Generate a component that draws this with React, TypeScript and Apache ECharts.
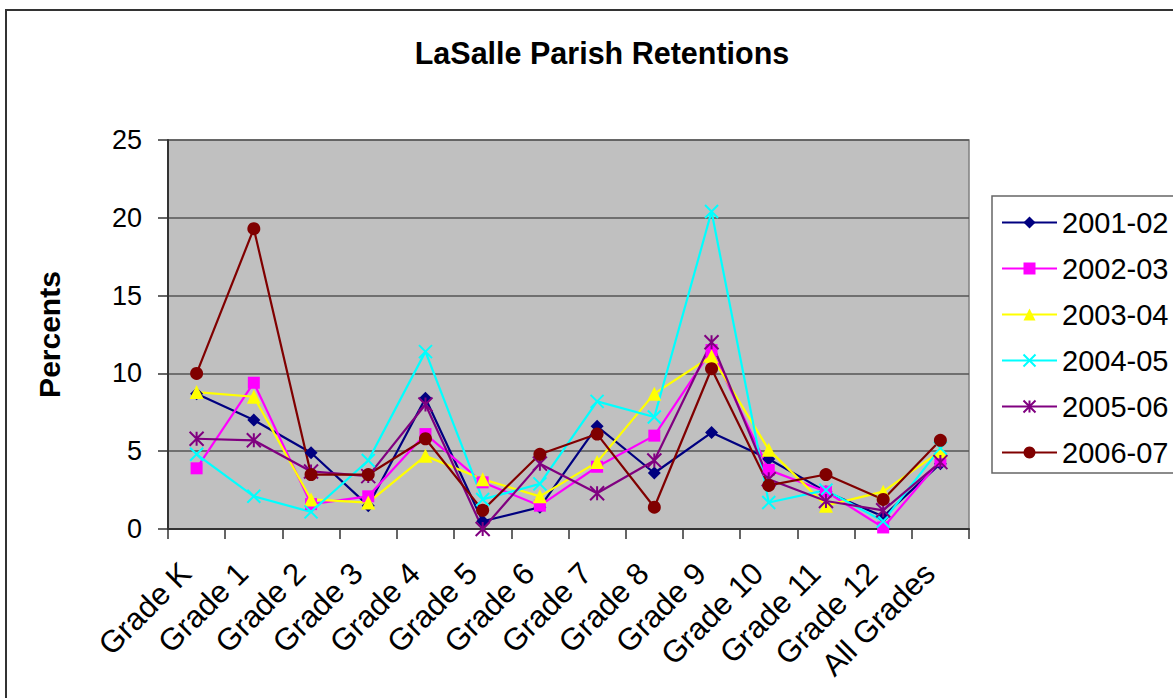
import React, { useEffect, useRef } from "react";
import * as echarts from "echarts";

const categories = ["Grade K", "Grade 1", "Grade 2", "Grade 3", "Grade 4", "Grade 5", "Grade 6", "Grade 7", "Grade 8", "Grade 9", "Grade 10", "Grade 11", "Grade 12", "All Grades"];
const seriesNames = ["2001-02", "2002-03", "2003-04", "2004-05", "2005-06", "2006-07"];
const s2001 = [8.7, 7.0, 4.9, 1.5, 8.4, 0.5, 1.4, 6.6, 3.6, 6.2, 4.5, 2.4, 0.8, 4.2];
const s2002 = [3.9, 9.4, 1.6, 2.1, 6.1, 3.0, 1.5, 4.0, 6.0, 11.5, 3.8, 2.4, 0.1, 4.4];
const s2003 = [8.8, 8.5, 1.9, 1.7, 4.7, 3.2, 2.1, 4.3, 8.7, 11.1, 5.1, 1.5, 2.4, 5.0];
const s2004 = [4.8, 2.1, 1.1, 4.4, 11.4, 1.9, 2.9, 8.2, 7.2, 20.4, 1.7, 2.5, 0.5, 5.2];
const s2005 = [5.8, 5.7, 3.7, 3.4, 8.0, 0.0, 4.2, 2.3, 4.4, 12.0, 3.2, 1.8, 1.2, 4.3];
const s2006 = [10.0, 19.3, 3.5, 3.5, 5.8, 1.2, 4.8, 6.1, 1.4, 10.3, 2.8, 3.5, 1.9, 5.7];
const yTicks = { min: 0, max: 25, interval: 5 };

const FONT = "'Liberation Sans', Arial, sans-serif";
const colors = ["#000080", "#FF00FF", "#FFFF00", "#00FFFF", "#800080", "#800000"];
const symbols = [
  "diamond",
  "rect",
  "triangle",
  "path://M0,0L10,10M10,0L0,10",
  "path://M5,0L5,10M0,0L10,10M10,0L0,10",
  "circle",
];
const symbolSizes = [13, 12, 14, 13, 14, 13];

export default function App() {
  const ref = useRef<HTMLDivElement>(null);
  useEffect(() => {
    const chart = echarts.init(ref.current!, null, { renderer: "svg" });
    const data = [s2001, s2002, s2003, s2004, s2005, s2006];
    chart.setOption({
      animation: false,
      backgroundColor: "#ffffff",
      title: {
        text: "LaSalle Parish Retentions",
        left: 597,
        top: 32,
        textAlign: "center",
        textStyle: { fontFamily: FONT, fontSize: 30.5, fontWeight: "bold", color: "#000" },
      },
      graphic: [
        {
          type: "rect",
          shape: { x: 6, y: 10, width: 1300, height: 900 },
          style: { fill: "none", stroke: "#333", lineWidth: 2 },
          silent: true,
        },
      ],
      legend: {
        orient: "vertical",
        left: 992,
        top: 196,
        padding: [12, 12, 6, 9],
        itemGap: 17,
        itemWidth: 55,
        itemHeight: 15,
        borderColor: "#666",
        borderWidth: 1.5,
        textStyle: { fontFamily: FONT, fontSize: 29, color: "#000", padding: [0, 0, 0, 0] },
        data: seriesNames,
      },
      grid: {
        left: 168,
        right: 204,
        top: 140,
        bottom: 169,
        show: true,
        backgroundColor: "#C0C0C0",
        borderColor: "#808080",
        borderWidth: 1.5,
        containLabel: false,
        outerBoundsMode: "none",
      },
      xAxis: {
        type: "category",
        data: categories,
        boundaryGap: true,
        axisLine: { lineStyle: { color: "#333", width: 2 } },
        axisTick: { show: true, length: 10, lineStyle: { color: "#333", width: 1.5 } },
        axisLabel: {
          interval: 0,
          rotate: 45,
          margin: 50,
          verticalAlign: "bottom",
          fontFamily: FONT,
          fontSize: 31,
          color: "#000",
        },
      },
      yAxis: {
        type: "value",
        min: yTicks.min,
        max: yTicks.max,
        interval: yTicks.interval,
        name: "Percents",
        nameLocation: "middle",
        nameGap: 104,
        nameTextStyle: { fontFamily: FONT, fontSize: 30, fontWeight: "bold", color: "#000" },
        axisLine: { show: true, lineStyle: { color: "#333", width: 2 } },
        axisTick: { show: true, length: 10, lineStyle: { color: "#333", width: 1.5 } },
        axisLabel: { margin: 26, fontFamily: FONT, fontSize: 27, color: "#000" },
        splitLine: { show: true, lineStyle: { color: "#555", width: 1.5 } },
      },
      series: seriesNames.map((name, i) => ({
        name,
        type: "line",
        data: data[i],
        symbol: symbols[i],
        symbolSize: symbolSizes[i],
        showAllSymbol: true,
        color: colors[i],
        lineStyle: { color: colors[i], width: 2.2 },
        itemStyle:
          i === 3 || i === 4
            ? { color: colors[i], borderColor: colors[i], borderWidth: 2 }
            : { color: colors[i], borderWidth: 0 },
        emphasis: { disabled: true },
      })),
    });
    return () => chart.dispose();
  }, []);
  return (
    <div
      ref={ref}
      style={{ position: "absolute", left: 0, top: 0, width: 1173, height: 698 }}
    />
  );
}
